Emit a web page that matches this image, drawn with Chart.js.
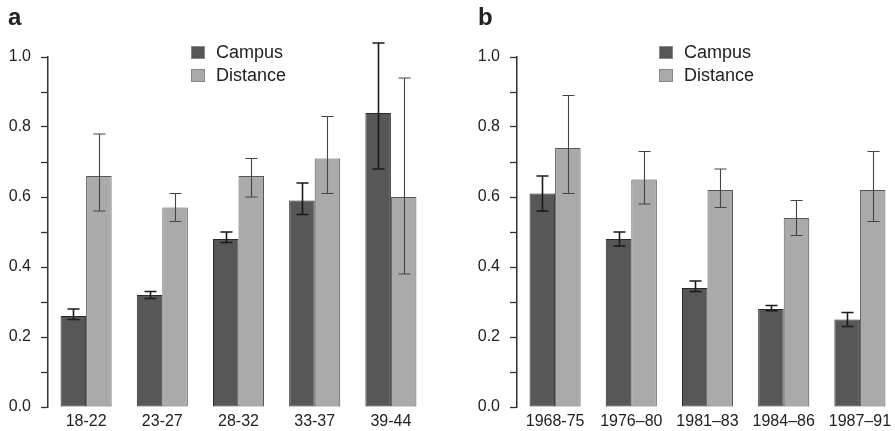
<!DOCTYPE html>
<html>
<head>
<meta charset="utf-8">
<script src="https://cdn.jsdelivr.net/npm/chart.js@4.4.1/dist/chart.umd.min.js"></script>
<style>
  html, body { margin: 0; padding: 0; background: #fff; overflow: hidden; }
  body { width: 895px; height: 431px; position: relative; font-family: "Liberation Sans", Arial, sans-serif; color: #222; }
  .panel { position: absolute; top: 0; width: 445px; height: 431px; }
  .letter { position: absolute; font-weight: bold; font-size: 24px; }
  .legend { position: absolute; font-size: 18px; line-height: 23px; }
  .legend span.sw { display: inline-block; width: 14px; height: 13px; margin-right: 11px; vertical-align: -1px; box-sizing: border-box; border: 1px solid #888; }
</style>
</head>
<body>
<div class="panel" style="left:0"><canvas id="chartA" width="445" height="431"></canvas></div>
<div class="panel" style="left:469px"><canvas id="chartB" width="445" height="431"></canvas></div>
<div class="letter" style="left:8px;top:3px">a</div>
<div class="letter" style="left:478px;top:3px">b</div>
<div class="legend" id="legA" style="left:191px;top:41px"></div>
<div class="legend" id="legB" style="left:659px;top:41px"></div>

<script>
// panel a: age groups
const ageLabels = ["18-22", "23-27", "28-32", "33-37", "39-44"];
const campusA = [0.26, 0.32, 0.48, 0.59, 0.84];
const campusALo = [0.25, 0.31, 0.47, 0.55, 0.68];
const campusAHi = [0.28, 0.33, 0.50, 0.64, 1.04];
const distanceA = [0.66, 0.57, 0.66, 0.71, 0.60];
const distanceALo = [0.56, 0.53, 0.60, 0.61, 0.38];
const distanceAHi = [0.78, 0.61, 0.71, 0.83, 0.94];

// panel b: cohorts
const cohortLabels = ["1968-75", "1976\u201380", "1981\u201383", "1984\u201386", "1987\u201391"];
const campusB = [0.61, 0.48, 0.34, 0.28, 0.25];
const campusBLo = [0.56, 0.46, 0.33, 0.275, 0.23];
const campusBHi = [0.66, 0.50, 0.36, 0.29, 0.27];
const distanceB = [0.74, 0.65, 0.62, 0.54, 0.62];
const distanceBLo = [0.61, 0.58, 0.57, 0.49, 0.53];
const distanceBHi = [0.89, 0.73, 0.68, 0.59, 0.73];

const yTicks = [0, 0.1, 0.2, 0.3, 0.4, 0.5, 0.6, 0.7, 0.8, 0.9, 1.0];
const seriesNames = ["Campus", "Distance"];
const seriesColors = ["#575757", "#aaaaaa"];

const FONT = "'Liberation Sans', Arial, sans-serif";

// draws whiskers from the lo/hi arrays stored on each dataset
const errorBars = {
  id: "errorBars",
  afterDatasetsDraw(chart) {
    const ctx = chart.ctx;
    const y = chart.scales.y;
    chart.data.datasets.forEach((ds, di) => {
      const meta = chart.getDatasetMeta(di);
      ctx.save();
      ctx.strokeStyle = ds.errColor;
      ctx.lineWidth = ds.errWidth;
      meta.data.forEach((bar, i) => {
        const x = Math.round(bar.x) + 0.5;
        const top = y.getPixelForValue(ds.hi[i]);
        const bot = y.getPixelForValue(ds.lo[i]);
        ctx.beginPath();
        ctx.moveTo(x, top); ctx.lineTo(x, bot);
        ctx.moveTo(x - 6, top); ctx.lineTo(x + 6, top);
        ctx.moveTo(x - 6, bot); ctx.lineTo(x + 6, bot);
        ctx.stroke();
      });
      ctx.restore();
    });
  }
};

function makeChart(id, labels, c, cLo, cHi, d, dLo, dHi) {
  return new Chart(document.getElementById(id), {
    type: "bar",
    data: {
      labels: labels,
      datasets: [
        { label: seriesNames[0], data: c, lo: cLo, hi: cHi,
          backgroundColor: seriesColors[0], borderColor: "#2a2a2a", borderWidth: 1,
          borderSkipped: false, errColor: "#1a1a1a", errWidth: 1.6 },
        { label: seriesNames[1], data: d, lo: dLo, hi: dHi,
          backgroundColor: seriesColors[1], borderColor: "#555", borderWidth: 1,
          borderSkipped: false, errColor: "#444", errWidth: 1.1 }
      ]
    },
    options: {
      responsive: false,
      animation: false,
      layout: { padding: { top: 57, right: 16, bottom: 0, left: 0 } },
      categoryPercentage: 0.67,
      barPercentage: 1.0,
      plugins: { legend: { display: false }, tooltip: { enabled: false } },
      scales: {
        x: {
          grid: { display: false, drawTicks: false },
          border: { display: false },
          ticks: { color: "#222", font: { family: FONT, size: 16 }, padding: 5, maxRotation: 0, autoSkip: false },
          afterFit: s => { s.height = 24; }
        },
        y: {
          min: 0, max: 1,
          afterBuildTicks: s => { s.ticks = yTicks.map(v => ({ value: v })); },
          grid: { drawOnChartArea: false, tickLength: 7, tickColor: "#333", tickWidth: 1.3 },
          border: { display: true, color: "#333", width: 1.5 },
          ticks: {
            color: "#222", font: { family: FONT, size: 16 }, padding: 10, autoSkip: false,
            callback: v => (Math.round(v * 10) % 2 === 0 ? v.toFixed(1) : "")
          },
          afterFit: s => { s.width = 48; }
        }
      }
    },
    plugins: [errorBars]
  });
}

makeChart("chartA", ageLabels, campusA, campusALo, campusAHi, distanceA, distanceALo, distanceAHi);
makeChart("chartB", cohortLabels, campusB, campusBLo, campusBHi, distanceB, distanceBLo, distanceBHi);

function fillLegend(id) {
  const el = document.getElementById(id);
  el.innerHTML = seriesNames.map((n, i) =>
    '<div><span class="sw" style="background:' + seriesColors[i] + '"></span>' + n + '</div>').join("");
}
fillLegend("legA");
fillLegend("legB");
</script>
</body>
</html>
